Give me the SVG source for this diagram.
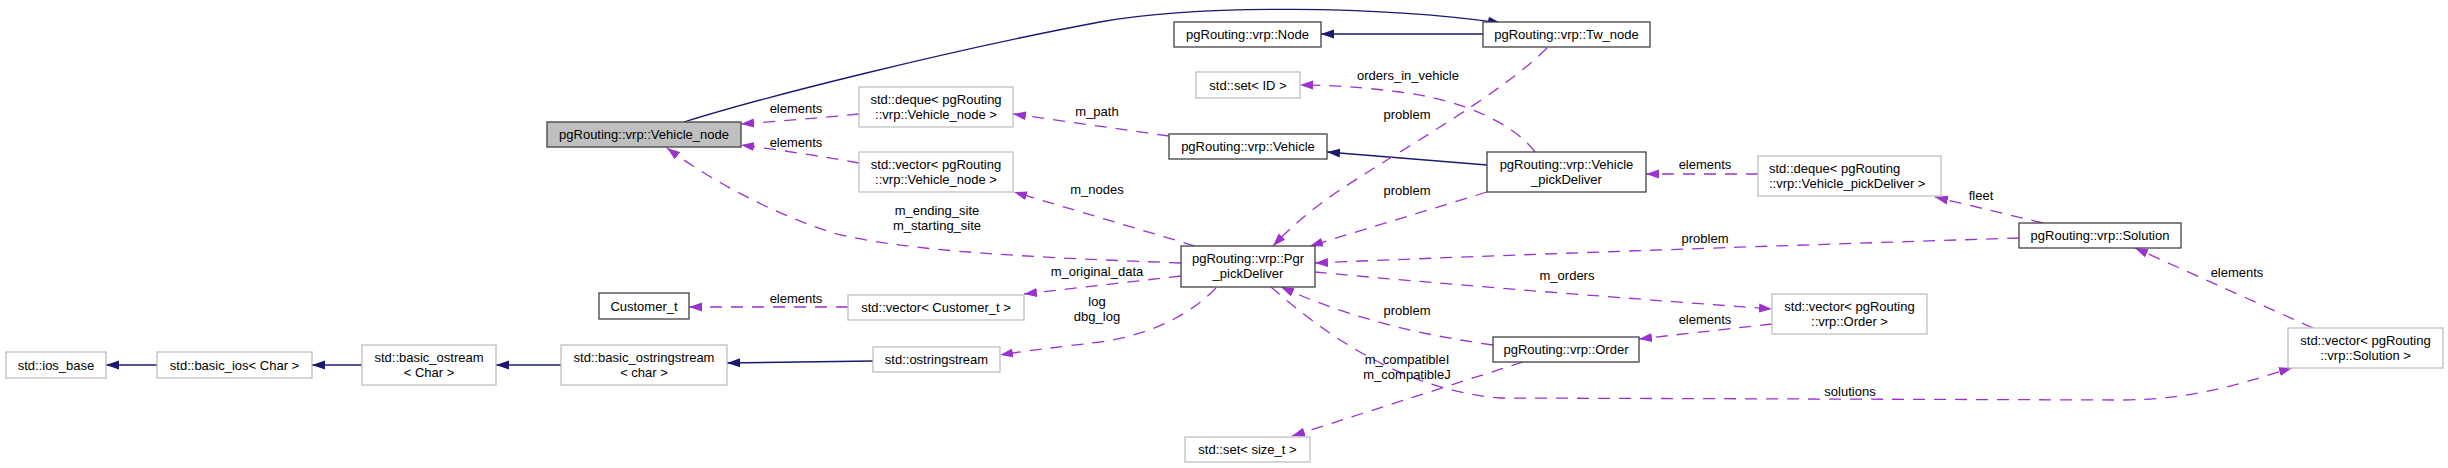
<svg xmlns="http://www.w3.org/2000/svg" width="2448" height="468" viewBox="0 0 2448 468">
<style>
text{font-family:"Liberation Sans",Arial,sans-serif;font-size:13px;fill:#000;text-anchor:middle}
.n rect{fill:#fff;stroke:#404040;stroke-width:1.3}
.n.g rect{stroke:#bfbfbf}
.n.sel rect{fill:#bfbfbf}
.b{fill:none;stroke:#191970;stroke-width:1.3;marker-end:url(#ab)}
.p{fill:none;stroke:#9a32cd;stroke-width:1.3;stroke-dasharray:12,9;marker-end:url(#ap)}
</style>
<defs>
<marker id="ab" viewBox="0 0 13 10" refX="13" refY="5" markerWidth="13" markerHeight="10" orient="auto" markerUnits="userSpaceOnUse"><path d="M0,0.5L13,5L0,9.5z" fill="#191970"/></marker>
<marker id="ap" viewBox="0 0 13 10" refX="13" refY="5" markerWidth="13" markerHeight="10" orient="auto" markerUnits="userSpaceOnUse"><path d="M0,0.5L13,5L0,9.5z" fill="#9a32cd"/></marker>
</defs>
<rect width="2448" height="468" fill="#fff"/>
<g id="edges">
<path class="b" d="M684,122 C760,98 950,50 1100,22 C1200,4 1380,6 1501,23"/>
<path class="b" d="M1483,34 L1321,34"/>
<path class="b" d="M1487,165 L1327,152"/>
<path class="b" d="M157,365 L106,365"/>
<path class="b" d="M362,365 L312,365"/>
<path class="b" d="M561,365 L496,365"/>
<path class="b" d="M873,361 L727,363"/>
<path class="p" d="M859,114 C820,118 780,121 741,124"/>
<path class="p" d="M859,163 C820,156 780,150 741,145"/>
<path class="p" d="M1169,136 L1013,114"/>
<path class="p" d="M1195,246 L1014,192"/>
<path class="p" d="M1181,263 C1050,258 900,252 830,232 C770,212 710,180 667,148"/>
<path class="p" d="M1547,48 C1500,95 1400,150 1340,190 C1310,210 1290,228 1273,246"/>
<path class="p" d="M1487,192 L1310,246"/>
<path class="p" d="M1535,152 C1515,125 1465,100 1400,92 C1360,87 1330,85 1300,85"/>
<path class="p" d="M1758,174 L1646,174"/>
<path class="p" d="M2043,223 L1935,197"/>
<path class="p" d="M2019,238 C1800,245 1500,255 1315,263"/>
<path class="p" d="M1315,272 C1450,285 1650,300 1772,309"/>
<path class="p" d="M1772,324 L1639,339"/>
<path class="p" d="M1493,345 C1420,335 1350,318 1281,287"/>
<path class="p" d="M1523,362 L1292,436"/>
<path class="p" d="M1271,287 C1320,330 1400,390 1500,398 L2119,400 C2200,400 2250,380 2292,368"/>
<path class="p" d="M2313,328 L2135,248"/>
<path class="p" d="M848,307 L689,307"/>
<path class="p" d="M1181,276 L1024,294"/>
<path class="p" d="M1216,288 C1190,315 1150,335 1100,342 C1060,347 1030,350 1000,355"/>
<text x="796" y="113">elements</text>
<text x="796" y="147">elements</text>
<text x="1097" y="116">m_path</text>
<text x="1097" y="194">m_nodes</text>
<text x="937" y="215">m_ending_site</text>
<text x="937" y="230">m_starting_site</text>
<text x="1407" y="119">problem</text>
<text x="1407" y="195">problem</text>
<text x="1408" y="80">orders_in_vehicle</text>
<text x="1705" y="169">elements</text>
<text x="1981" y="200">fleet</text>
<text x="1705" y="243">problem</text>
<text x="1567" y="280">m_orders</text>
<text x="1705" y="324">elements</text>
<text x="1407" y="315">problem</text>
<text x="1407" y="364">m_compatibleI</text>
<text x="1407" y="379">m_compatibleJ</text>
<text x="1850" y="396">solutions</text>
<text x="2237" y="277">elements</text>
<text x="796" y="303">elements</text>
<text x="1097" y="276">m_original_data</text>
<text x="1097" y="306">log</text>
<text x="1097" y="321">dbg_log</text>
</g>
<g id="vehicle_node" class="n sel"><rect x="547" y="122" width="194" height="25"/><text x="644" y="139">pgRouting::vrp::Vehicle_node</text></g>
<g id="tw_node" class="n"><rect x="1483" y="22" width="167" height="25"/><text x="1566.5" y="39">pgRouting::vrp::Tw_node</text></g>
<g id="node" class="n"><rect x="1174" y="22" width="147" height="25"/><text x="1247.5" y="39">pgRouting::vrp::Node</text></g>
<g id="set_id" class="n g"><rect x="1196" y="72" width="104" height="26"/><text x="1248" y="89.5">std::set&lt; ID &gt;</text></g>
<g id="deque_vehicle_node" class="n g"><rect x="859" y="87" width="154" height="40"/><text x="936" y="103.5">std::deque&lt; pgRouting</text><text x="936" y="118.5">::vrp::Vehicle_node &gt;</text></g>
<g id="vehicle" class="n"><rect x="1169" y="134" width="158" height="25"/><text x="1248" y="151">pgRouting::vrp::Vehicle</text></g>
<g id="vehicle_pickdeliver" class="n"><rect x="1487" y="152" width="159" height="40"/><text x="1566.5" y="168.5">pgRouting::vrp::Vehicle</text><text x="1566.5" y="183.5">_pickDeliver</text></g>
<g id="vector_vehicle_node" class="n g"><rect x="859" y="152" width="154" height="40"/><text x="936" y="168.5">std::vector&lt; pgRouting</text><text x="936" y="183.5">::vrp::Vehicle_node &gt;</text></g>
<g id="deque_vpd" class="n g"><rect x="1758" y="156" width="183" height="40"/><text x="1769" y="172.5" style="text-anchor:start">std::deque&lt; pgRouting</text><text x="1769" y="187.5" style="text-anchor:start">::vrp::Vehicle_pickDeliver &gt;</text></g>
<g id="pgr_pickdeliver" class="n"><rect x="1181" y="246" width="134" height="41"/><text x="1248" y="263">pgRouting::vrp::Pgr</text><text x="1248" y="278">_pickDeliver</text></g>
<g id="solution" class="n"><rect x="2019" y="223" width="162" height="25"/><text x="2100" y="240">pgRouting::vrp::Solution</text></g>
<g id="customer_t" class="n"><rect x="599" y="293" width="90" height="26"/><text x="644" y="310.5">Customer_t</text></g>
<g id="vector_customer" class="n g"><rect x="848" y="295" width="176" height="25"/><text x="936" y="312">std::vector&lt; Customer_t &gt;</text></g>
<g id="ostringstream" class="n g"><rect x="873" y="347" width="127" height="25"/><text x="936.5" y="364">std::ostringstream</text></g>
<g id="basic_ostringstream" class="n g"><rect x="561" y="345" width="166" height="40"/><text x="644" y="361.5">std::basic_ostringstream</text><text x="644" y="376.5">&lt; char &gt;</text></g>
<g id="basic_ostream" class="n g"><rect x="362" y="345" width="134" height="40"/><text x="429" y="361.5">std::basic_ostream</text><text x="429" y="376.5">&lt; Char &gt;</text></g>
<g id="basic_ios" class="n g"><rect x="157" y="352" width="155" height="26"/><text x="234.5" y="369.5">std::basic_ios&lt; Char &gt;</text></g>
<g id="ios_base" class="n g"><rect x="6" y="352" width="100" height="26"/><text x="56" y="369.5">std::ios_base</text></g>
<g id="vector_order" class="n g"><rect x="1772" y="294" width="155" height="40"/><text x="1849.5" y="310.5">std::vector&lt; pgRouting</text><text x="1849.5" y="325.5">::vrp::Order &gt;</text></g>
<g id="order" class="n"><rect x="1493" y="337" width="146" height="25"/><text x="1566" y="354">pgRouting::vrp::Order</text></g>
<g id="set_size_t" class="n g"><rect x="1185" y="437" width="125" height="25"/><text x="1247.5" y="454">std::set&lt; size_t &gt;</text></g>
<g id="vector_solution" class="n g"><rect x="2288" y="328" width="155" height="40"/><text x="2365.5" y="344.5">std::vector&lt; pgRouting</text><text x="2365.5" y="359.5">::vrp::Solution &gt;</text></g>
</svg>
